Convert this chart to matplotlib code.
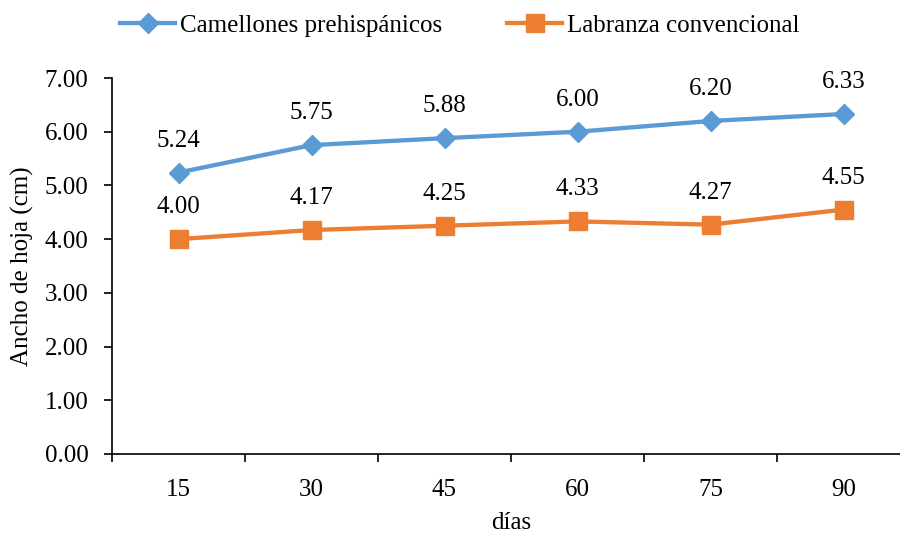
import matplotlib.pyplot as plt

dias = ["15", "30", "45", "60", "75", "90"]
camellones = [5.24, 5.75, 5.88, 6.00, 6.20, 6.33]
labranza = [4.00, 4.17, 4.25, 4.33, 4.27, 4.55]

plt.rcParams['font.family'] = ['Liberation Serif', 'DejaVu Serif']

fig = plt.figure(figsize=(9, 5.37), dpi=100)
ax = fig.add_axes([112 / 900, 83 / 537, 798 / 900, 376 / 537])

x = list(range(len(dias)))
ax.plot(x, camellones, color='#5B9BD5', linewidth=3.1, marker='D', markersize=10.5,
        label='Camellones prehispánicos', clip_on=False)
ax.plot(x, labranza, color='#ED7D31', linewidth=3.1, marker='s', markersize=13,
        label='Labranza convencional', clip_on=False)

# data labels above each point
for xi, v in zip(x, camellones):
    ax.annotate(f"{v:.2f}", (xi, v), xytext=(0, 23), textcoords='offset points',
                ha='center', va='center', fontsize=18)
for xi, v in zip(x, labranza):
    ax.annotate(f"{v:.2f}", (xi, v), xytext=(0, 23), textcoords='offset points',
                ha='center', va='center', fontsize=18)

ax.set_xlim(-0.5, 5.5)
ax.set_ylim(0, 7)
ax.set_yticks([0, 1, 2, 3, 4, 5, 6, 7])
ax.set_yticklabels([f"{t:.2f}" for t in range(8)], fontsize=18)
ax.set_xticks(x)
ax.set_xticklabels(dias, fontsize=18)
ax.set_xticks([i - 0.5 for i in range(len(dias) + 1)], minor=True)
ax.tick_params(axis='x', which='major', length=0, pad=18)
ax.tick_params(axis='x', which='minor', length=6, width=1.2, direction='out')
ax.tick_params(axis='y', length=6, width=1.2, direction='out', pad=11)

for s in ['top', 'right']:
    ax.spines[s].set_visible(False)
for s in ['left', 'bottom']:
    ax.spines[s].set_linewidth(1.2)

ax.set_xlabel("días", fontsize=18, labelpad=8)
ax.set_ylabel("Ancho de hoja (cm)", fontsize=18, labelpad=8)

fig.legend(loc='upper center', bbox_to_anchor=(0.511, 1.015), ncol=2, frameon=False,
           fontsize=18, handlelength=2.2, columnspacing=2.6, handletextpad=0.2)

fig.savefig("out.png", dpi=100)
